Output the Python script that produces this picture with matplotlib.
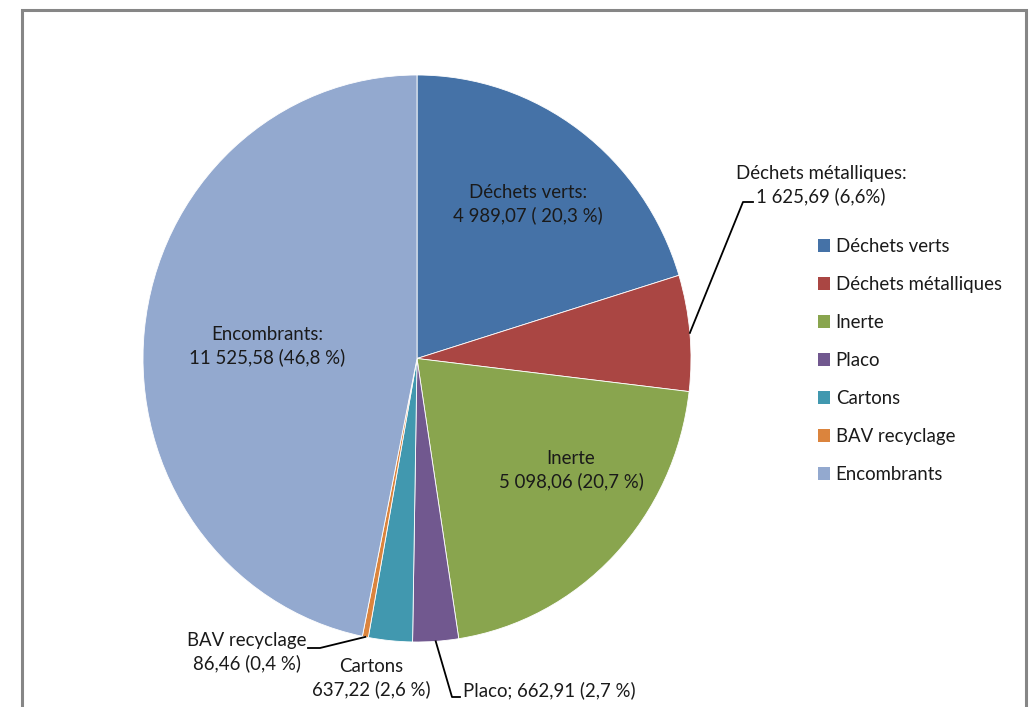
import numpy as np
import matplotlib
matplotlib.use("Agg")
import matplotlib.pyplot as plt
from matplotlib.patches import Patch, Rectangle

categories = ["Déchets verts", "Déchets métalliques", "Inerte", "Placo",
              "Cartons", "BAV recyclage", "Encombrants"]
values = [4989.07, 1625.69, 5098.06, 662.91, 637.22, 86.46, 11525.58]
label_texts = [
    "Déchets verts:\n4 989,07 ( 20,3 %)",
    "Déchets métalliques:\n1 625,69 (6,6%)",
    "Inerte\n5 098,06 (20,7 %)",
    "Placo; 662,91 (2,7 %)",
    "Cartons\n637,22 (2,6 %)",
    "BAV recyclage\n86,46 (0,4 %)",
    "Encombrants:\n11 525,58 (46,8 %)",
]
colors = ["#4572A7", "#AA4643", "#89A54E", "#71588F", "#4198AF", "#DB843D", "#93A9CF"]

plt.rcParams['font.family'] = ['Lato', 'DejaVu Sans']
W, H = 1033, 707
fig = plt.figure(figsize=(W / 100, H / 100), dpi=100)

# frame
fig.patches.append(Rectangle((22 / W, -0.05), (1026 - 22) / W, (H - 10) / H + 0.05,
                             transform=fig.transFigure, fill=False,
                             edgecolor="#868686", linewidth=2.2))

cx, cy, rx, ry = 417, 358.5, 274, 283.5
ax = fig.add_axes([(cx - rx) / W, (H - cy - ry) / H, 2 * rx / W, 2 * ry / H])
ax.axis("off")
wedges, _ = ax.pie(values, colors=colors, startangle=90, counterclock=False,
                   radius=1, wedgeprops=dict(edgecolor="white", linewidth=0.6))
ax.set_aspect("auto")
ax.set_xlim(-1, 1)
ax.set_ylim(-1, 1)


def px2d(px, py):
    return (px - cx) / rx, (cy - py) / ry


fs = 13.4
ls = 1.35
tc = "#1a1a1a"
pos = {
    0: (528, 204),
    2: (571, 470),
    6: (267, 346),
    4: (371, 678),
}
for i, (px, py) in pos.items():
    x, y = px2d(px, py)
    ax.text(x, y, label_texts[i], ha="center", va="center", fontsize=fs,
            linespacing=ls, color=tc, clip_on=False)

total = sum(values)
cum = np.cumsum([0] + values)


def mid_point(i):
    frac = (cum[i] + values[i] / 2) / total
    ang = np.deg2rad(90 - 360 * frac)
    return np.cos(ang), np.sin(ang)

# Déchets métalliques
x, y = px2d(821, 185)
ax.text(x, y, label_texts[1], ha="center", va="center", fontsize=fs,
        linespacing=ls, color=tc, clip_on=False)
mx, my = mid_point(1)
p1 = px2d(743, 202)
p2 = px2d(753, 202)
ax.plot([mx, p1[0], p2[0]], [my, p1[1], p2[1]], color="black", lw=1.3, clip_on=False)

# BAV recyclage
x, y = px2d(247, 652)
ax.text(x, y, label_texts[5], ha="center", va="center", fontsize=fs,
        linespacing=ls, color=tc, clip_on=False)
mx, my = mid_point(5)
p1 = px2d(320, 648)
p2 = px2d(308, 648)
ax.plot([mx, p1[0], p2[0]], [my, p1[1], p2[1]], color="black", lw=1.3, clip_on=False)

# Placo
x, y = px2d(463, 690)
ax.text(x, y, label_texts[3], ha="left", va="center", fontsize=fs,
        color=tc, clip_on=False)
mx, my = mid_point(3)
p1 = px2d(452, 697)
p2 = px2d(460, 697)
ax.plot([mx, p1[0], p2[0]], [my, p1[1], p2[1]], color="black", lw=1.3, clip_on=False)

# legend
handles = [Patch(facecolor=c, edgecolor="none") for c in colors]
leg = fig.legend(handles, categories, loc="upper left",
                 bbox_to_anchor=(818 / W, 1 - 238 / H), frameon=False,
                 fontsize=fs, handlelength=0.65, handleheight=0.65,
                 handletextpad=0.3, labelspacing=1.13, borderaxespad=0,
                 borderpad=0)
for t in leg.get_texts():
    t.set_color(tc)

fig.savefig("out.png", dpi=100)
